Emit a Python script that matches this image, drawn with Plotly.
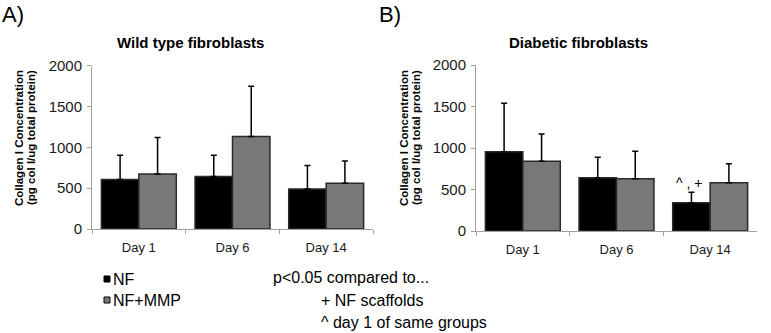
import plotly.graph_objects as go

days = ["Day 1", "Day 6", "Day 14"]

wt_nf = [606, 643, 491]
wt_nf_err = [298, 261, 287]
wt_mmp = [675, 1134, 561]
wt_mmp_err = [446, 613, 273]

db_nf = [955, 642, 341]
db_nf_err = [584, 246, 125]
db_mmp = [840, 630, 582]
db_mmp_err = [329, 330, 228]

series_names = ["NF", "NF+MMP"]
series_colors = ["#000000", "#787878"]
panel_titles = ["Wild type fibroblasts", "Diabetic fibroblasts"]
panel_letters = ["A)", "B)"]
ytitle_lines = ["Collagen I Concentration", "(pg col I/ug total protein)"]
notes = ["p<0.05 compared to...", "+ NF scaffolds", "^ day 1 of same groups"]
sig_label = "^ , +"

W, H = 771, 333
FONT = "Liberation Sans, Arial, sans-serif"


def px_x(p):
    return p / W


def px_y(p):
    return 1 - p / H


fig = go.Figure()

panels = [
    ("x", "y", [wt_nf, wt_mmp], [wt_nf_err, wt_mmp_err]),
    ("x2", "y2", [db_nf, db_mmp], [db_nf_err, db_mmp_err]),
]
for xa, ya, vals, errs in panels:
    for name, color, v, e in zip(series_names, series_colors, vals, errs):
        fig.add_trace(go.Bar(
            x=days, y=v, name=name, xaxis=xa, yaxis=ya, showlegend=False,
            marker=dict(color=color, line=dict(color="#2a2a2a", width=1.5)),
            error_y=dict(type="data", symmetric=False, array=e,
                         arrayminus=[0] * len(e), color="#000000",
                         thickness=1.5, width=3),
        ))

axis_common = dict(showline=True, linecolor="#a0a0a0", linewidth=1,
                   ticks="outside", ticklen=4, tickcolor="#a0a0a0",
                   showgrid=False, zeroline=False, automargin=False)

x_dom = [[px_x(92), px_x(373)], [px_x(476), px_x(757)]]
y_dom = [[px_y(229), px_y(65.7)], [px_y(231), px_y(65)]]

layout_axes = {}
for i, (xn, yn) in enumerate([("xaxis", "yaxis"), ("xaxis2", "yaxis2")]):
    layout_axes[xn] = dict(axis_common, domain=x_dom[i], type="category",
                           range=[-0.5, 2.5], tickson="boundaries",
                           anchor="y" if i == 0 else "y2",
                           tickfont=dict(family=FONT, size=13, color="#1a1a1a"),
                           ticklabelstandoff=6)
    layout_axes[yn] = dict(axis_common, domain=y_dom[i], range=[0, 2000],
                           dtick=500, anchor="x" if i == 0 else "x2",
                           tickfont=dict(family=FONT, size=15, color="#1a1a1a"),
                           ticklabelstandoff=2)

annotations = []
shapes = []
# panel letters
for letter, xp in zip(panel_letters, [0, 377]):
    annotations.append(dict(text=letter, xref="paper", yref="paper",
                            x=px_x(xp), y=px_y(15), xanchor="left", yanchor="middle",
                            showarrow=False, font=dict(family=FONT, size=22, color="#000")))
# panel titles
for t, xc in zip(panel_titles, [190, 578]):
    annotations.append(dict(text="<b>%s</b>" % t, xref="paper", yref="paper",
                            x=px_x(xc), y=px_y(43), xanchor="center", yanchor="middle",
                            showarrow=False, font=dict(family=FONT, size=15, color="#000")))
# y-axis titles (two lines each)
for base in [0, 385]:
    for line, dx in zip(ytitle_lines, [19, 31]):
        annotations.append(dict(text="<b>%s</b>" % line, xref="paper", yref="paper",
                                x=px_x(base + dx), y=px_y(138), xanchor="center",
                                yanchor="middle", textangle=-90, showarrow=False,
                                font=dict(family=FONT, size=11.5, color="#000")))
# significance label above diabetic day 14 NF bar
annotations.append(dict(text=sig_label, xref="x2", yref="y2", x=days[2],
                        y=db_nf[2] + db_nf_err[2], xanchor="center", yanchor="bottom",
                        xshift=-21, yshift=-1, showarrow=False,
                        font=dict(family=FONT, size=14, color="#000")))
# notes
for note, (xp, yp) in zip(notes, [(271, 277), (319, 300), (319, 322)]):
    annotations.append(dict(text=note, xref="paper", yref="paper",
                            x=px_x(xp), y=px_y(yp), xanchor="left", yanchor="middle",
                            showarrow=False, font=dict(family=FONT, size=16, color="#000")))
# legend keys
for name, color, yc in zip(series_names, series_colors, [279, 300]):
    shapes.append(dict(type="rect", xref="paper", yref="paper",
                       x0=px_x(104), x1=px_x(110), y0=px_y(yc + 3), y1=px_y(yc - 3),
                       fillcolor=color, line=dict(color="#000", width=1)))
    annotations.append(dict(text=name, xref="paper", yref="paper",
                            x=px_x(111), y=px_y(yc), xanchor="left", yanchor="middle",
                            showarrow=False, font=dict(family=FONT, size=16, color="#000")))

fig.update_layout(
    template="none",
    width=W, height=H,
    margin=dict(l=0, r=0, t=0, b=0, pad=0, autoexpand=False),
    paper_bgcolor="white", plot_bgcolor="white",
    barmode="group", bargap=0.2, bargroupgap=0,
    showlegend=False,
    annotations=annotations,
    shapes=shapes,
    **layout_axes,
)

fig.write_html("out.html", config={"displayModeBar": False},
               post_script="document.body.style.margin='0';")
